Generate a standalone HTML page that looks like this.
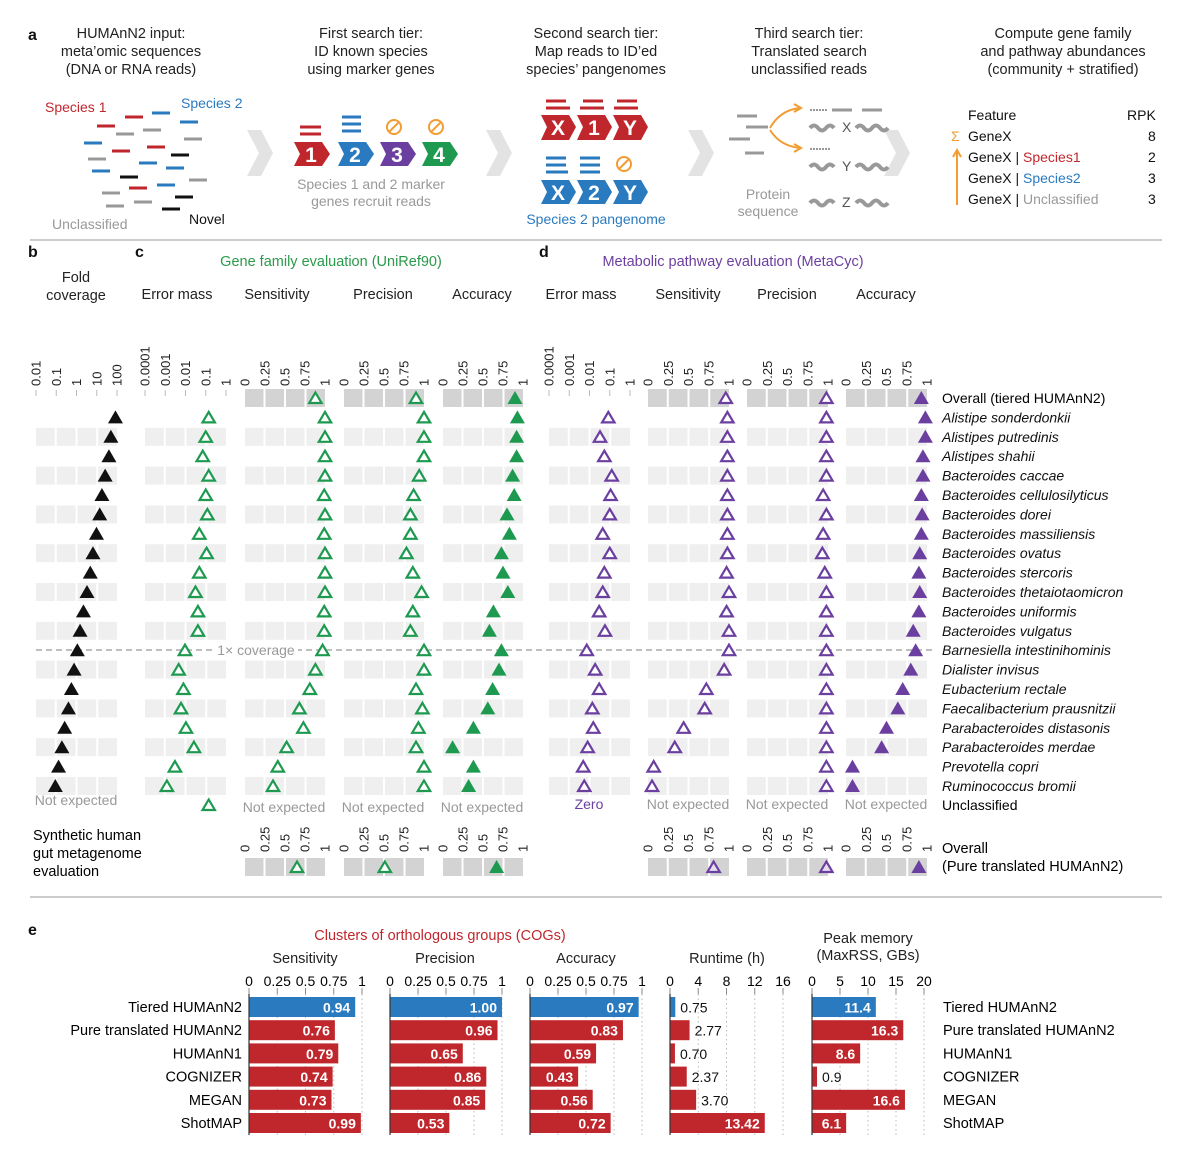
<!DOCTYPE html>
<html><head><meta charset="utf-8"><style>
html,body{margin:0;padding:0;background:#fff;}
svg{display:block;font-family:"Liberation Sans",Arial,sans-serif;}
.h{font-size:14.5px;fill:#222;text-anchor:middle;}
.rl{font-size:14px;fill:#111;font-style:italic;}
.ne{font-size:14px;fill:#999;text-anchor:middle;}
.tk{font-size:13px;fill:#222;}
.pl{font-size:16px;font-weight:bold;fill:#111;}
</style></head><body>
<svg id="fig" width="1200" height="1159" viewBox="0 0 1200 1159" xmlns="http://www.w3.org/2000/svg">
<g>
<text x="28" y="40" class="pl">a</text>
<g class="h">
<text x="131" y="38">HUMAnN2 input:</text><text x="131" y="56">meta’omic sequences</text><text x="131" y="74">(DNA or RNA reads)</text>
<text x="371" y="38">First search tier:</text><text x="371" y="56">ID known species</text><text x="371" y="74">using marker genes</text>
<text x="596" y="38">Second search tier:</text><text x="596" y="56">Map reads to ID’ed</text><text x="596" y="74">species’ pangenomes</text>
<text x="809" y="38">Third search tier:</text><text x="809" y="56">Translated search</text><text x="809" y="74">unclassified reads</text>
<text x="1063" y="38">Compute gene family</text><text x="1063" y="56">and pathway abundances</text><text x="1063" y="74">(community + stratified)</text>
</g>
<text x="45" y="112" style="font-size:14px;fill:#c0272d">Species 1</text>
<text x="181" y="108" style="font-size:14px;fill:#2a7abf">Species 2</text>
<g id="reads" stroke-width="3"></g>
<text x="52" y="229" style="font-size:14px;fill:#999">Unclassified</text>
<text x="189" y="224" style="font-size:14px;fill:#111">Novel</text>
<g fill="#e3e3e3">
<polygon points="247,130 261,130 273,153 261,176 247,176 259,153"/>
<polygon points="486,130 500,130 512,153 500,176 486,176 498,153"/>
<polygon points="688,130 702,130 714,153 702,176 688,176 700,153"/>
<polygon points="884,130 898,130 910,153 898,176 884,176 896,153"/>
</g>
<g font-weight="bold" font-size="21" fill="#fff" text-anchor="middle">
<polygon points="294,142 322,142 330,154 322,166 294,166 300,154" fill="#c0272d"/><text x="311" y="162">1</text>
<polygon points="338,142 366,142 374,154 366,166 338,166 344,154" fill="#2a7abf"/><text x="355" y="162">2</text>
<polygon points="380,142 408,142 416,154 408,166 380,166 386,154" fill="#6b3fa0"/><text x="397" y="162">3</text>
<polygon points="422,142 450,142 458,154 450,166 422,166 428,154" fill="#1e9a50"/><text x="439" y="162">4</text>
</g>
<g stroke-width="3">
<line x1="300" y1="127" x2="321" y2="127" stroke="#c0272d"/><line x1="300" y1="134" x2="321" y2="134" stroke="#c0272d"/>
<line x1="342" y1="117" x2="361" y2="117" stroke="#2a7abf"/><line x1="342" y1="124" x2="361" y2="124" stroke="#2a7abf"/><line x1="342" y1="131" x2="361" y2="131" stroke="#2a7abf"/>
</g>
<g fill="none" stroke="#f39c34" stroke-width="2">
<circle cx="394" cy="127" r="7"/><line x1="389" y1="132" x2="399" y2="122"/>
<circle cx="436" cy="127" r="7"/><line x1="431" y1="132" x2="441" y2="122"/>
<circle cx="624" cy="164" r="7"/><line x1="619" y1="169" x2="629" y2="159"/>
</g>
<text x="371" y="189" class="h" style="fill:#999;font-size:14px">Species 1 and 2 marker</text>
<text x="371" y="206" class="h" style="fill:#999;font-size:14px">genes recruit reads</text>
<g font-weight="bold" font-size="21" fill="#fff" text-anchor="middle">
<polygon points="541,115 569,115 576,127 569,140 541,140 547,127" fill="#c0272d"/><text x="558" y="135">X</text>
<polygon points="577,115 605,115 612,127 605,140 577,140 583,127" fill="#c0272d"/><text x="594" y="135">1</text>
<polygon points="613,115 641,115 648,127 641,140 613,140 619,127" fill="#c0272d"/><text x="630" y="135">Y</text>
<polygon points="541,180 569,180 576,192 569,204 541,204 547,192" fill="#2a7abf"/><text x="558" y="200">X</text>
<polygon points="577,180 605,180 612,192 605,204 577,204 583,192" fill="#2a7abf"/><text x="594" y="200">2</text>
<polygon points="613,180 641,180 648,192 641,204 613,204 619,192" fill="#2a7abf"/><text x="630" y="200">Y</text>
</g>
<g stroke-width="3">
<line x1="546" y1="101" x2="566" y2="101" stroke="#c0272d"/><line x1="546" y1="108" x2="570" y2="108" stroke="#c0272d"/>
<line x1="583" y1="101" x2="603" y2="101" stroke="#c0272d"/><line x1="580" y1="108" x2="604" y2="108" stroke="#c0272d"/>
<line x1="617" y1="101" x2="637" y2="101" stroke="#c0272d"/><line x1="614" y1="108" x2="638" y2="108" stroke="#c0272d"/>
<line x1="546" y1="158" x2="566" y2="158" stroke="#2a7abf"/><line x1="546" y1="165" x2="566" y2="165" stroke="#2a7abf"/><line x1="546" y1="172" x2="568" y2="172" stroke="#2a7abf"/>
<line x1="580" y1="158" x2="600" y2="158" stroke="#2a7abf"/><line x1="580" y1="165" x2="600" y2="165" stroke="#2a7abf"/><line x1="580" y1="172" x2="600" y2="172" stroke="#2a7abf"/>
</g>
<text x="596" y="224" class="h" style="fill:#2a7abf;font-size:14px">Species 2 pangenome</text>
<g stroke="#999" stroke-width="3">
<line x1="737" y1="116" x2="757" y2="116"/><line x1="746" y1="127" x2="768" y2="127"/><line x1="729" y1="139" x2="750" y2="139"/><line x1="745" y1="153" x2="764" y2="153"/>
<line x1="832" y1="110" x2="852" y2="110"/><line x1="862" y1="110" x2="882" y2="110"/>
</g>
<g fill="none" stroke="#f39c34" stroke-width="2">
<path d="M770,128 Q780,110 800,108"/><path d="M794,104 L801,108 L794,112"/>
<path d="M770,130 Q780,146 800,148"/><path d="M794,144 L801,148 L794,152"/>
</g>
<g fill="none" stroke="#999" stroke-width="4">
<path d="M810,128 q4,-5 8,0 t8,0 t8,0"/><path d="M856,128 q4,-5 8,0 t8,0 t8,0 t8,0"/>
<path d="M810,167 q4,-5 8,0 t8,0 t8,0"/><path d="M856,167 q4,-5 8,0 t8,0 t8,0 t8,0"/>
<path d="M810,203 q4,-5 8,0 t8,0 t8,0"/><path d="M856,203 q4,-5 8,0 t8,0 t8,0 t8,0"/>
<line x1="810" y1="149" x2="830" y2="149" stroke-dasharray="2,1" stroke-width="2"/><line x1="810" y1="110" x2="828" y2="110" stroke-dasharray="2,1" stroke-width="2"/>
</g>
<g font-size="14" fill="#555"><text x="842" y="132">X</text><text x="842" y="171">Y</text><text x="842" y="207">Z</text></g>
<text x="768" y="199" class="h" style="fill:#999;font-size:14px">Protein</text>
<text x="768" y="216" class="h" style="fill:#999;font-size:14px">sequence</text>
<g font-size="14" fill="#111">
<text x="968" y="120">Feature</text><text x="1127" y="120">RPK</text>
<text x="951" y="141" fill="#f39c34">Σ</text><text x="968" y="141">GeneX</text><text x="1148" y="141">8</text>
<text x="968" y="162">GeneX | <tspan fill="#c0272d">Species1</tspan></text><text x="1148" y="162">2</text>
<text x="968" y="183">GeneX | <tspan fill="#2a7abf">Species2</tspan></text><text x="1148" y="183">3</text>
<text x="968" y="204">GeneX | <tspan fill="#999">Unclassified</tspan></text><text x="1148" y="204">3</text>
</g>
<g stroke="#f39c34" stroke-width="2" fill="none"><line x1="957" y1="205" x2="957" y2="152"/><path d="M953,157 L957,150 L961,157"/></g>
</g>
<line x1="30" y1="240" x2="1162" y2="240" stroke="#bbb" stroke-width="1.5"/>
<line x1="30" y1="897" x2="1162" y2="897" stroke="#bbb" stroke-width="1.5"/>
<g>
<text x="28" y="257" class="pl">b</text><text x="135" y="257" class="pl">c</text><text x="539" y="257" class="pl">d</text>
<text x="76" y="282" class="h">Fold</text><text x="76" y="300" class="h">coverage</text>
<text x="331" y="266" class="h" style="fill:#2a9a4a">Gene family evaluation (UniRef90)</text>
<text x="733" y="266" class="h" style="fill:#6b3fa0">Metabolic pathway evaluation (MetaCyc)</text>
<text x="177" y="299" class="h">Error mass</text><text x="277" y="299" class="h">Sensitivity</text><text x="383" y="299" class="h">Precision</text><text x="482" y="299" class="h">Accuracy</text>
<text x="581" y="299" class="h">Error mass</text><text x="688" y="299" class="h">Sensitivity</text><text x="787" y="299" class="h">Precision</text><text x="886" y="299" class="h">Accuracy</text>
<text x="33" y="840" style="font-size:14.5px">Synthetic human</text><text x="33" y="858" style="font-size:14.5px">gut metagenome</text><text x="33" y="876" style="font-size:14.5px">evaluation</text>
<text x="942" y="853" style="font-size:14.5px">Overall</text><text x="942" y="871" style="font-size:14.5px">(Pure translated HUMAnN2)</text>
</g>
<g id="bands"></g><g id="ticks"></g><g id="cov"></g><g id="marks"></g><g id="rowlabels"></g>
<g id="panelE"></g>
<text x="28" y="935" class="pl">e</text>
<text x="440" y="940" class="h" style="fill:#c0272d">Clusters of orthologous groups (COGs)</text>
<g class="h">
<text x="305" y="963">Sensitivity</text><text x="445" y="963">Precision</text><text x="586" y="963">Accuracy</text>
<text x="727" y="963">Runtime (h)</text><text x="868" y="943">Peak memory</text><text x="868" y="960">(MaxRSS, GBs)</text>
</g>
</svg>
<script>
const species = ["Alistipe sonderdonkii","Alistipes putredinis","Alistipes shahii","Bacteroides caccae","Bacteroides cellulosilyticus","Bacteroides dorei","Bacteroides massiliensis","Bacteroides ovatus","Bacteroides stercoris","Bacteroides thetaiotaomicron","Bacteroides uniformis","Bacteroides vulgatus","Barnesiella intestinihominis","Dialister invisus","Eubacterium rectale","Faecalibacterium prausnitzii","Parabacteroides distasonis","Parabacteroides merdae","Prevotella copri","Ruminococcus bromii"];
const foldCov = [84,50,40,26,18,14,9.7,6.5,4.8,3.3,2.2,1.5,1.1,0.76,0.56,0.40,0.26,0.19,0.13,0.09];
const cErrMass = [0.14,0.10,0.071,0.14,0.10,0.12,0.048,0.11,0.048,0.031,0.041,0.041,0.0094,0.0046,0.0079,0.006,0.0105,0.026,0.003,0.0012];
const cErrUnclassified = 0.14;
const cSens = [0.88,1,1,1,1,0.99,1,0.99,1,1,1,0.99,0.99,0.97,0.88,0.81,0.68,0.73,0.52,0.41,0.35];
const cPrec = [0.9,1,1,1,0.94,0.87,0.83,0.83,0.78,0.86,0.97,0.86,0.83,1,1,0.9,0.98,0.93,0.9,1,1];
const cAcc = [0.9,0.93,0.92,0.92,0.87,0.89,0.8,0.83,0.73,0.75,0.81,0.63,0.58,0.73,0.7,0.62,0.56,0.38,0.12,0.38,0.32];
const dErrMass = [0.085,0.033,0.054,0.125,0.11,0.10,0.045,0.10,0.054,0.045,0.030,0.058,0.0073,0.019,0.030,0.0138,0.0154,0.0081,0.0049,0.0055];
const dSens = [0.96,0.98,0.98,0.98,0.98,0.98,0.98,0.98,0.98,0.97,1,0.97,1,1,0.94,0.72,0.70,0.44,0.33,0.07,0.05];
const dPrec = [0.98,0.98,0.98,0.98,0.98,0.94,0.98,0.94,0.93,0.96,0.98,0.98,0.98,0.98,0.98,0.98,0.98,0.98,0.98,0.98,0.98];
const dAcc = [0.93,0.98,0.98,0.95,0.95,0.93,0.94,0.93,0.91,0.9,0.91,0.9,0.83,0.86,0.8,0.7,0.64,0.5,0.44,0.08,0.08];
const cPure = [0.65,0.51,0.67];
const dPure = [0.81,0.98,0.9];
const logTicksFold = ["0.01","0.1","1","10","100"];
const logTicksErr = ["0.0001","0.001","0.01","0.1","1"];
const unitTicks = ["0","0.25","0.5","0.75","1"];
const methods = ["Tiered HUMAnN2","Pure translated HUMAnN2","HUMAnN1","COGNIZER","MEGAN","ShotMAP"];
const eSens = [0.94,0.76,0.79,0.74,0.73,0.99];
const ePrec = [1.00,0.96,0.65,0.86,0.85,0.53];
const eAcc = [0.97,0.83,0.59,0.43,0.56,0.72];
const eRun = [0.75,2.77,0.70,2.37,3.70,13.42];
const eMem = [11.4,16.3,8.6,0.9,16.6,6.1];
const runTicks = ["0","4","8","12","16"];
const memTicks = ["0","5","10","15","20"];
const eUnitTicks = ["0","0.25","0.5","0.75","1"];

const NS="http://www.w3.org/2000/svg";
function mk(parent,tag,attrs,txt){const e=document.createElementNS(NS,tag);for(const k in attrs)e.setAttribute(k,attrs[k]);if(txt!==undefined)e.textContent=txt;parent.appendChild(e);return e;}
const G=id=>document.getElementById(id);

const readSegs=[["#c0272d",125,117],["#2a7abf",152,113],["#c0272d",97,126],["#2a7abf",180,122],["#999",116,134],["#999",143,130],["#2a7abf",84,143],["#999",184,139],["#c0272d",112,151],["#c0272d",147,147],["#111",171,155],["#999",88,159],["#2a7abf",139,163],["#2a7abf",166,168],["#2a7abf",92,171],["#111",120,177],["#999",189,180],["#c0272d",129,188],["#2a7abf",157,185],["#999",102,193],["#111",175,197],["#999",134,202],["#999",106,206],["#111",162,209]];
readSegs.forEach(r=>{const e=mk(G('reads'),'line',{x1:r[1],y1:r[2],x2:r[1]+18,y2:r[2],stroke:r[0]});

});

function linAx(x0,x1){return v=>x0+v*(x1-x0);}
function logAx(x0,x1,lo,hi){return v=>x0+(Math.log10(v)-lo)/(hi-lo)*(x1-x0);}
const P={
 b:{x0:36,x1:117,f:logAx(36,117,-2,2),ticks:logTicksFold,log:true},
 cErr:{x0:145,x1:226,f:logAx(145,226,-4,0),ticks:logTicksErr,log:true},
 cSens:{x0:245,x1:325,f:linAx(245,325),ticks:unitTicks},
 cPrec:{x0:344,x1:424,f:linAx(344,424),ticks:unitTicks},
 cAcc:{x0:443,x1:523,f:linAx(443,523),ticks:unitTicks},
 dErr:{x0:549,x1:630,f:logAx(549,630,-4,0),ticks:logTicksErr,log:true},
 dSens:{x0:648,x1:729,f:linAx(648,729),ticks:unitTicks},
 dPrec:{x0:747,x1:828,f:linAx(747,828),ticks:unitTicks},
 dAcc:{x0:846,x1:927,f:linAx(846,927),ticks:unitTicks}
};
const ry=i=>398+i*19.4;
function cells(key,y,fill,name){const p=P[key];const gap=2,cw=(p.x1-p.x0-3*gap)/4;
 for(let k=0;k<4;k++){const r=mk(G('bands'),'rect',{x:p.x0+k*(cw+gap),y:y-9,width:cw,height:18,fill:fill});
 
 }}
for(let i=2;i<=20;i+=2){for(const k in P)cells(k,ry(i),'#efefef','row-band');}
['cSens','cPrec','cAcc','dSens','dPrec','dAcc'].forEach(k=>cells(k,ry(0),'#d3d3d3','overall-band'));
['cSens','cPrec','cAcc','dSens','dPrec','dAcc'].forEach(k=>cells(k,867,'#d3d3d3','pure-band'));

function tickLabels(key,yb){const p=P[key];p.ticks.forEach((t,k)=>{const x=p.x0+k*(p.x1-p.x0)/4;
 const e=mk(G('ticks'),'text',{x:0,y:0,class:'tk',transform:`translate(${x+4.5},${yb}) rotate(-90)`},t);
 
 
 if(p.log){const l=mk(G('ticks'),'line',{x1:x,x2:x,y1:yb+4,y2:yb+10,stroke:'#bbb'});
 
 }});}
for(const k in P)tickLabels(k,386);
['cSens','cPrec','cAcc','dSens','dPrec','dAcc'].forEach(k=>tickLabels(k,852));

{const l=mk(G('cov'),'line',{x1:36,x2:935,y1:650,y2:650,stroke:'#aaa','stroke-width':1.5,'stroke-dasharray':'6,4'});


const r=mk(G('cov'),'rect',{x:214,y:642,width:84,height:16,fill:'#fff'});


const t=mk(G('cov'),'text',{x:256,y:655,class:'ne'},'1× coverage');

}

function tri(x,y,filled,color,name){let el;
 if(filled)el=mk(G('marks'),'polygon',{points:`${x},${y-7} ${x-7.5},${y+6} ${x+7.5},${y+6}`,fill:color});
 else el=mk(G('marks'),'polygon',{points:`${x},${y-5.5} ${x-6.2},${y+5} ${x+6.2},${y+5}`,fill:filled===null?'#e6dcf0':'#fff',stroke:color,'stroke-width':2.2});
 
 }
const GR='#1e9a50',PU='#6b3fa0';
foldCov.forEach((v,i)=>tri(P.b.f(v),ry(i+1),true,'#111','fold-coverage-marker'));
cErrMass.forEach((v,i)=>tri(P.cErr.f(v),ry(i+1),false,GR,'gene-error-mass-marker'));
tri(P.cErr.f(cErrUnclassified),805,false,GR,'gene-error-mass-unclassified');
cSens.forEach((v,i)=>tri(P.cSens.f(v),ry(i),false,GR,'gene-sensitivity-marker'));
cPrec.forEach((v,i)=>tri(P.cPrec.f(v),ry(i),false,GR,'gene-precision-marker'));
cAcc.forEach((v,i)=>tri(P.cAcc.f(v),ry(i),true,GR,'gene-accuracy-marker'));
dErrMass.forEach((v,i)=>tri(P.dErr.f(v),ry(i+1),false,PU,'pathway-error-mass-marker'));
dSens.forEach((v,i)=>tri(P.dSens.f(v),ry(i),false,PU,'pathway-sensitivity-marker'));
dPrec.forEach((v,i)=>tri(P.dPrec.f(v),ry(i),false,PU,'pathway-precision-marker'));
dAcc.forEach((v,i)=>tri(P.dAcc.f(v),ry(i),true,PU,'pathway-accuracy-marker'));
tri(P.cSens.f(cPure[0]),867,false,GR,'pure-gene-sensitivity');
tri(P.cPrec.f(cPure[1]),867,false,GR,'pure-gene-precision');
tri(P.cAcc.f(cPure[2]),867,true,GR,'pure-gene-accuracy');
tri(P.dSens.f(dPure[0]),867,null,PU,'pure-pathway-sensitivity');
tri(P.dPrec.f(dPure[1]),867,null,PU,'pure-pathway-precision');
tri(P.dAcc.f(dPure[2]),867,true,PU,'pure-pathway-accuracy');

{const t=mk(G('rowlabels'),'text',{x:942,y:ry(0)+5,style:'font-size:14px'},'Overall (tiered HUMAnN2)');

}
species.forEach((s,i)=>{const t=mk(G('rowlabels'),'text',{x:942,y:ry(i+1)+5,class:'rl'},s);

});
{const t=mk(G('rowlabels'),'text',{x:942,y:810,style:'font-size:14px'},'Unclassified');

}
[[76,805,'Not expected'],[284,812,'Not expected'],[383,812,'Not expected'],[482,812,'Not expected'],[688,809,'Not expected'],[787,809,'Not expected'],[886,809,'Not expected']].forEach(a=>{
 const t=mk(G('rowlabels'),'text',{x:a[0],y:a[1],class:'ne'},a[2]);
 
 });
{const t=mk(G('rowlabels'),'text',{x:589,y:809,class:'ne',style:'fill:#6b3fa0'},'Zero');

}

const E=G('panelE');
const ey=i=>1007+i*23.2;
function barChart(x0,x1,max,ticks,vals,fmt,minInside,name){
 const sc=v=>x0+v/max*(x1-x0);
 ticks.forEach((t,k)=>{const x=x0+k*(x1-x0)/(ticks.length-1);
  const l=mk(E,'line',{x1:x,x2:x,y1:994,y2:1135,stroke:'#bbb','stroke-dasharray':'1.5,3'});
  
  
  const tm=mk(E,'line',{x1:x,x2:x,y1:988,y2:994,stroke:'#888'});
  
  
  const tl=mk(E,'text',{x:x,y:986,'text-anchor':'middle',style:'font-size:14px'},t);
  
  });
 vals.forEach((v,i)=>{const w=sc(v)-x0;
  const r=mk(E,'rect',{x:x0,y:ey(i)-10,width:w,height:20,fill:i===0?'#2a7abf':'#c0272d'});
  
  
  const inside=v>=minInside;
  const t=mk(E,'text',{x:inside?sc(v)-5:sc(v)+5,y:ey(i)+5.5,'text-anchor':inside?'end':'start',style:`font-size:14px;${inside?'fill:#fff;font-weight:bold':'fill:#111'}`},fmt(v));
  
  });
 const ax=mk(E,'line',{x1:x0,x2:x0,y1:994,y2:1135,stroke:'#333','stroke-width':1.2});
 
 
}
barChart(249,362,1,eUnitTicks,eSens,v=>v.toFixed(2),0.2,'cog-sensitivity');
barChart(390,502,1,eUnitTicks,ePrec,v=>v.toFixed(2),0.2,'cog-precision');
barChart(530,642,1,eUnitTicks,eAcc,v=>v.toFixed(2),0.2,'cog-accuracy');
barChart(670,783,16,runTicks,eRun,v=>v.toFixed(2),8,'runtime');
barChart(812,924,20,memTicks,eMem,v=>v.toFixed(1),3,'peak-memory');
methods.forEach((m,i)=>{
 const a=mk(E,'text',{x:242,y:ey(i)+5,'text-anchor':'end',style:'font-size:14.5px'},m);
 
 
 const b=mk(E,'text',{x:943,y:ey(i)+5,style:'font-size:14.5px'},m);
 
 });
</script>
</body></html>
